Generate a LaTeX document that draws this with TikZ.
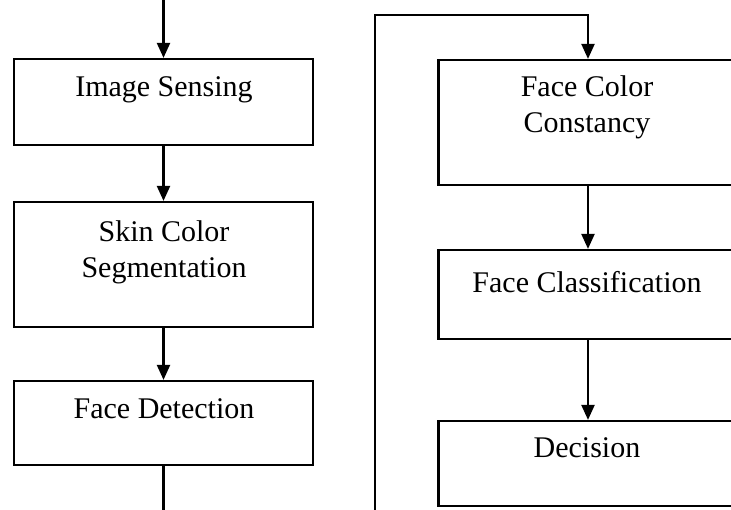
\documentclass[tikz,border=0pt]{standalone}
\usepackage{fontspec}
\setmainfont{Liberation Serif}
\usepackage{tikz}
\usetikzlibrary{arrows.meta, positioning}
\tikzstyle{block}     = [draw=black, line width=2.2pt, minimum width=299pt, inner sep=0pt]
\tikzstyle{blocktext} = [anchor=base, align=center, inner sep=0pt,
                         font=\fontsize{30}{36}\selectfont]
\tikzstyle{wire}      = [line width=2.2pt]
\tikzstyle{arrow}     = [line width=2.2pt, -{Triangle[length=15pt,width=13pt]}]

\begin{document}
\begin{tikzpicture}[x=1pt, y=-1pt]
  \useasboundingbox (0,0) rectangle (731,510);
  \clip (0,0) rectangle (731,510);

  % --- Left column ---
  \node[block, minimum height=86pt]  (sense)  at (163.5,102)   {};
  \node[block, minimum height=125pt] (skin)   at (163.5,264.5) {};
  \node[block, minimum height=84pt]  (detect) at (163.5,423)   {};
  \node[blocktext] (sense-t)  at (164,97)  {Image Sensing};
  \node[blocktext] (skin-t)   at (164,278) {Skin Color\\Segmentation};
  \node[blocktext] (detect-t) at (164,419) {Face Detection};

  % --- Right column ---
  \node[block, minimum height=125pt] (constancy) at (588,122.5) {};
  \node[block, minimum height=89pt]  (classify)  at (588,294.5) {};
  \node[block, minimum height=85pt]  (decide)    at (588,463.5) {};
  \node[blocktext] (constancy-t) at (587,133) {Face Color\\Constancy};
  \node[blocktext] (classify-t)  at (587,293) {Face Classification};
  \node[blocktext] (decide-t)    at (587,457) {Decision};

  % Free ends and corner of the return line
  \coordinate (start)  at (163.5,-2);
  \coordinate (exit)   at (163.5,515);
  \coordinate (loopin) at (375,515);
  \coordinate (corner) at (375,15);

  % Connections
  \draw[arrow] (start) -- (sense);
  \draw[arrow] (sense) -- (skin);
  \draw[arrow] (skin)  -- (detect);
  \draw[wire]  (detect) -- (exit);
  \draw[arrow] (loopin) -- (corner) -| (constancy);
  \draw[arrow] (constancy) -- (classify);
  \draw[arrow] (classify)  -- (decide);
\end{tikzpicture}
\end{document}
